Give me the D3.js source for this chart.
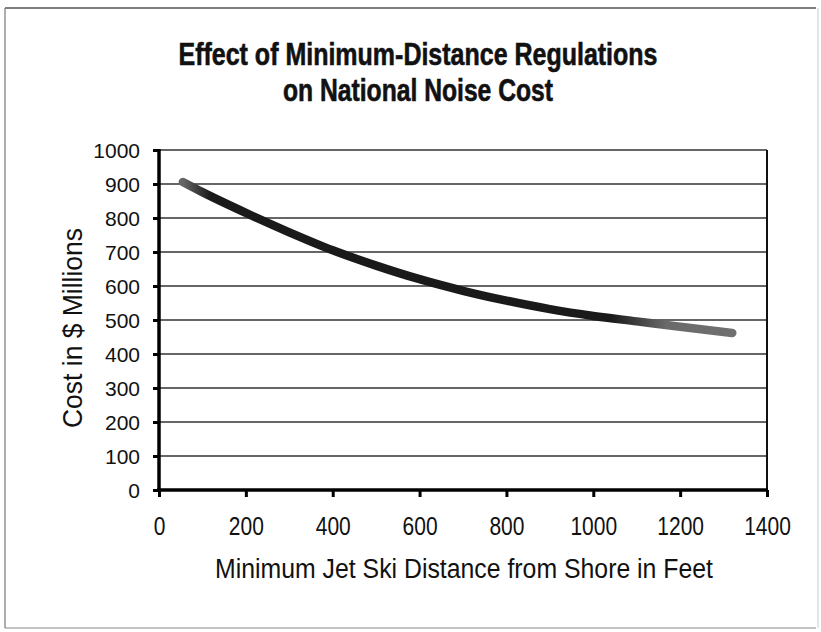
<!DOCTYPE html>
<html>
<head>
<meta charset="utf-8">
<script src="https://cdn.jsdelivr.net/npm/d3@7"></script>
<style>
  html, body { margin: 0; padding: 0; background: #fff; }
  svg { display: block; }
</style>
</head>
<body>
<svg id="chart" width="821" height="632"></svg>
<script>
// ---- data ----
const titleLines = ["Effect of Minimum-Distance Regulations", "on National Noise Cost"];
const xLabel = "Minimum Jet Ski Distance from Shore in Feet";
const yLabel = "Cost in $ Millions";
const xTicks = [0, 200, 400, 600, 800, 1000, 1200, 1400];
const yTicks = [0, 100, 200, 300, 400, 500, 600, 700, 800, 900, 1000];
const distance = [55, 100, 200, 300, 400, 500, 600, 700, 800, 900, 1000, 1100, 1200, 1320];
const cost     = [906, 876, 815, 758, 705, 660, 620, 586, 557, 532, 512, 496, 480, 462];

// ---- layout ----
const svg = d3.select("#chart");
const plot = { left: 159, right: 767, top: 150, bottom: 490 };
const sansFont = "'Liberation Sans', Arial, sans-serif";

// outer frame
svg.append("line").attr("x1", 5).attr("x2", 816).attr("y1", 8).attr("y2", 8)
  .attr("stroke", "#555").attr("stroke-width", 1.5);
svg.append("line").attr("x1", 5).attr("x2", 5).attr("y1", 8).attr("y2", 628)
  .attr("stroke", "#777").attr("stroke-width", 1.2);
svg.append("line").attr("x1", 5).attr("x2", 816).attr("y1", 628).attr("y2", 628)
  .attr("stroke", "#888").attr("stroke-width", 1.2);
svg.append("line").attr("x1", 818).attr("x2", 818).attr("y1", 8).attr("y2", 628)
  .attr("stroke", "#ccc").attr("stroke-width", 1);

const x = d3.scaleLinear().domain([0, 1400]).range([plot.left, plot.right]);
const y = d3.scaleLinear().domain([0, 1000]).range([plot.bottom, plot.top]);

// gridlines
svg.append("g").selectAll("line").data(yTicks.filter(d => d > 0)).join("line")
  .attr("x1", plot.left).attr("x2", plot.right)
  .attr("y1", d => y(d)).attr("y2", d => y(d))
  .attr("stroke", "#333").attr("stroke-width", 1.3);

// right border of plot
svg.append("line").attr("x1", plot.right).attr("x2", plot.right)
  .attr("y1", plot.top).attr("y2", plot.bottom)
  .attr("stroke", "#111").attr("stroke-width", 2);

// y axis
const yAxis = svg.append("g").attr("transform", `translate(${plot.left},0)`)
  .call(d3.axisLeft(y).tickValues(yTicks).tickSize(6).tickPadding(13).tickFormat(d3.format("d")));
yAxis.select(".domain").attr("stroke", "#000").attr("stroke-width", 3.5).attr("d", `M0,${plot.top - 1}V${plot.bottom + 1}`);
yAxis.selectAll(".tick line").attr("stroke", "#000").attr("stroke-width", 3);
yAxis.selectAll(".tick text").attr("font-family", sansFont)
  .attr("font-size", 21).attr("fill", "#111").attr("dy", "0.36em");

// x axis (labels slightly tall & narrow as in the reference)
const xScaleX = 0.84;
const xAxis = svg.append("g").attr("transform", `translate(0,${plot.bottom})`)
  .call(d3.axisBottom(x).tickValues(xTicks).tickSize(7).tickPadding(20).tickFormat(d3.format("d")));
xAxis.select(".domain").attr("stroke", "#000").attr("stroke-width", 3.5).attr("d", `M${plot.left - 2},0H${plot.right + 1}`);
xAxis.selectAll(".tick line").attr("stroke", "#000").attr("stroke-width", 3);
xAxis.selectAll(".tick text").attr("font-family", sansFont)
  .attr("font-size", 25).attr("fill", "#111").attr("transform", `scale(${xScaleX},1)`);

// gradient for scanned grey ends
const defs = svg.append("defs");
const grad = defs.append("linearGradient").attr("id", "lineGrad")
  .attr("gradientUnits", "userSpaceOnUse")
  .attr("x1", x(distance[0])).attr("x2", x(distance[distance.length - 1]))
  .attr("y1", 0).attr("y2", 0);
grad.append("stop").attr("offset", "0%").attr("stop-color", "#666");
grad.append("stop").attr("offset", "5%").attr("stop-color", "#1a1a1a");
grad.append("stop").attr("offset", "78%").attr("stop-color", "#1a1a1a");
grad.append("stop").attr("offset", "88%").attr("stop-color", "#6a6a6a");
grad.append("stop").attr("offset", "100%").attr("stop-color", "#707070");

const pts = distance.map((d, i) => [d, cost[i]]);
svg.append("path").datum(pts)
  .attr("d", d3.line().x(d => x(d[0])).y(d => y(d[1])).curve(d3.curveMonotoneX))
  .attr("fill", "none").attr("stroke", "url(#lineGrad)").attr("stroke-width", 8.5)
  .attr("stroke-linecap", "round").attr("stroke-linejoin", "round");

// title (heavy condensed face)
const titleWidths = [479, 270];
svg.append("g").selectAll("text").data(titleLines).join("text")
  .attr("x", 418).attr("y", (d, i) => 65 + i * 36)
  .attr("text-anchor", "middle")
  .attr("font-family", sansFont).attr("font-weight", "bold").attr("font-size", 31)
  .attr("fill", "#111").attr("stroke", "#111").attr("stroke-width", 0.6)
  .attr("textLength", (d, i) => titleWidths[i]).attr("lengthAdjust", "spacingAndGlyphs")
  .text(d => d);

// axis titles
svg.append("text").attr("x", 464).attr("y", 578).attr("text-anchor", "middle")
  .attr("font-family", sansFont).attr("font-size", 27).attr("fill", "#111")
  .attr("textLength", 498).attr("lengthAdjust", "spacingAndGlyphs").text(xLabel);
svg.append("text").attr("transform", "translate(82,328) rotate(-90)").attr("text-anchor", "middle")
  .attr("font-family", sansFont).attr("font-size", 28).attr("fill", "#111")
  .attr("textLength", 200).attr("lengthAdjust", "spacingAndGlyphs").text(yLabel);
</script>
</body>
</html>
